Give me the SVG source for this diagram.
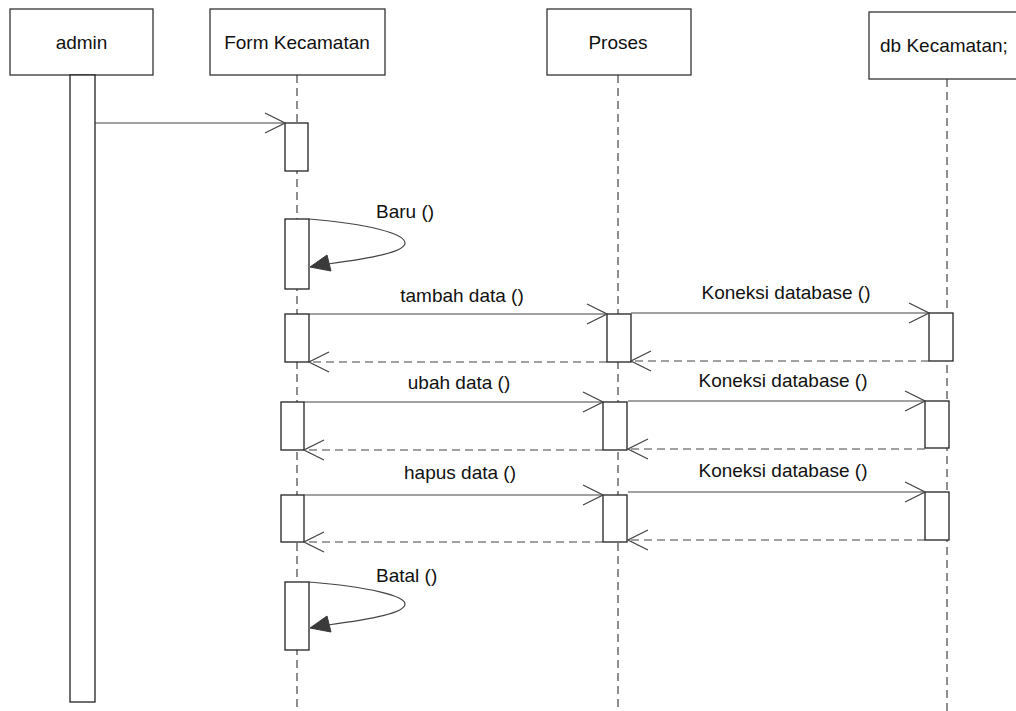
<svg xmlns="http://www.w3.org/2000/svg" width="1016" height="711" viewBox="0 0 1016 711">
<style>
.box{fill:#fff;stroke:#333;stroke-width:1.3}
.act{fill:#fff;stroke:#222;stroke-width:1.3}
.life{stroke:#444;stroke-width:1.2;stroke-dasharray:8 5;fill:none}
.msg{stroke:#444;stroke-width:1.2;fill:none;marker-end:url(#open)}
.ret{stroke:#444;stroke-width:1.2;fill:none;stroke-dasharray:8 5;marker-end:url(#open)}
.self{stroke:#444;stroke-width:1.2;fill:none}
.head{fill:#3a3a3a;stroke:#3a3a3a;stroke-width:1}
text{font-family:"Liberation Sans",Arial,sans-serif;font-size:19px;fill:#111}
.c{text-anchor:middle}
</style>
<defs>
<marker id="open" viewBox="0 0 22 22" refX="21" refY="11" markerWidth="22" markerHeight="22" markerUnits="userSpaceOnUse" orient="auto">
<path d="M1,1 L21,11 L1,21" fill="none" stroke="#444" stroke-width="1.2"/>
</marker>
</defs>
<g id="lifelines">
<line class="life" x1="297" y1="75" x2="297" y2="711"/>
<line class="life" x1="618" y1="75" x2="618" y2="711"/>
<line class="life" x1="947" y1="79" x2="947" y2="711"/>
</g>
<g id="admin">
<rect class="box" x="10" y="9" width="143" height="66"/>
<text class="c" x="81.5" y="49">admin</text>
<rect class="act" x="70" y="75" width="25" height="627"/>
</g>
<g id="form-kecamatan">
<rect class="box" x="210" y="9" width="175" height="66"/>
<text class="c" x="297" y="49">Form Kecamatan</text>
<rect class="act" x="285" y="123" width="23" height="48"/>
<rect class="act" x="285" y="219" width="24" height="70"/>
<rect class="act" x="285" y="314" width="24" height="48"/>
<rect class="act" x="281" y="402" width="23" height="48"/>
<rect class="act" x="281" y="495" width="23" height="47"/>
<rect class="act" x="285" y="582" width="24" height="68"/>
</g>
<g id="proses">
<rect class="box" x="547" y="9" width="144" height="66"/>
<text class="c" x="618" y="49">Proses</text>
<rect class="act" x="607" y="314" width="24" height="48"/>
<rect class="act" x="603" y="402" width="24" height="48"/>
<rect class="act" x="603" y="495" width="24" height="47"/>
</g>
<g id="db-kecamatan">
<rect class="box" x="869" y="12" width="150" height="67"/>
<text x="880" y="52">db Kecamatan;</text>
<rect class="act" x="929" y="313" width="24" height="48"/>
<rect class="act" x="925" y="401" width="24" height="47"/>
<rect class="act" x="925" y="492" width="24" height="48"/>
</g>
<g id="connectors">
<line class="msg" x1="95" y1="123" x2="285" y2="123"/>
<path class="self" d="M309,219 C370,224 405,234 405,243 C405,252 372,258 328,264"/>
<polygon class="head" points="310,267 327,255 331,271"/>
<text x="376" y="218">Baru ()</text>
<line class="msg" x1="309" y1="314" x2="607" y2="314"/>
<line class="ret" x1="607" y1="362" x2="309" y2="362"/>
<text class="c" x="462" y="302">tambah data ()</text>
<line class="msg" x1="631" y1="313" x2="929" y2="313"/>
<line class="ret" x1="929" y1="361" x2="631" y2="361"/>
<text class="c" x="786" y="299">Koneksi database ()</text>
<line class="msg" x1="304" y1="402" x2="603" y2="402"/>
<line class="ret" x1="603" y1="450" x2="304" y2="450"/>
<text class="c" x="459" y="389">ubah data ()</text>
<line class="msg" x1="628" y1="401" x2="925" y2="401"/>
<line class="ret" x1="925" y1="449" x2="628" y2="449"/>
<text class="c" x="783" y="387">Koneksi database ()</text>
<line class="msg" x1="304" y1="495" x2="603" y2="495"/>
<line class="ret" x1="603" y1="542" x2="304" y2="542"/>
<text class="c" x="460" y="479">hapus data ()</text>
<line class="msg" x1="628" y1="492" x2="925" y2="492"/>
<line class="ret" x1="925" y1="540" x2="628" y2="540"/>
<text class="c" x="783" y="477">Koneksi database ()</text>
<path class="self" d="M309,582 C370,587 405,596 405,604 C405,613 372,619 328,625"/>
<polygon class="head" points="310,628 327,616 331,632"/>
<text x="376" y="582">Batal ()</text>
</g>
</svg>
